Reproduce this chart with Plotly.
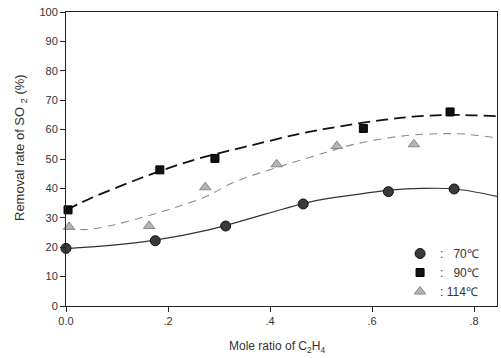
import plotly.graph_objects as go

x70 = [0.0, 0.175, 0.313, 0.465, 0.632, 0.761]
y70 = [19.6, 22.2, 27.2, 34.7, 38.9, 39.8]
x90 = [0.004, 0.184, 0.292, 0.583, 0.753]
y90 = [32.7, 46.3, 50.2, 60.4, 66.0]
x114 = [0.006, 0.163, 0.273, 0.413, 0.531, 0.682]
y114 = [26.9, 27.2, 40.4, 48.2, 54.4, 55.0]

# Fitted curves
cx70 = [0.0, 0.086, 0.171, 0.282, 0.36, 0.426, 0.492, 0.557, 0.635, 0.70, 0.763, 0.845]
cy70 = [19.5, 20.6, 22.3, 26.0, 29.7, 33.0, 35.9, 37.6, 39.4, 40.0, 39.8, 37.3]
cx90 = [0.0, 0.053, 0.12, 0.184, 0.263, 0.36, 0.459, 0.537, 0.622, 0.68, 0.753, 0.845]
cy90 = [32.6, 37.0, 41.7, 45.9, 50.3, 54.5, 58.6, 61.1, 63.3, 64.4, 65.0, 64.6]
cx114 = [0.0, 0.04, 0.086, 0.151, 0.217, 0.276, 0.328, 0.426, 0.511, 0.57, 0.668, 0.733, 0.778, 0.845]
cy114 = [26.4, 26.0, 27.3, 30.2, 33.7, 37.3, 42.0, 47.8, 52.3, 55.2, 58.0, 58.6, 58.5, 57.2]

xtick_vals = [0.0, 0.2, 0.4, 0.6, 0.8]
xtick_text = ["0.0", ".2", ".4", ".6", ".8"]
ytick_vals = list(range(0, 101, 10))

X_MAX = 0.845

fig = go.Figure()

# Fitted curves
fig.add_trace(go.Scatter(x=cx70, y=cy70, mode="lines", line_shape="spline",
                         line=dict(color="#333333", width=1.2), showlegend=False, hoverinfo="skip"))
fig.add_trace(go.Scatter(x=cx90, y=cy90, mode="lines", line_shape="spline",
                         line=dict(color="#111111", width=1.8, dash="12px,6px"), showlegend=False, hoverinfo="skip"))
fig.add_trace(go.Scatter(x=cx114, y=cy114, mode="lines", line_shape="spline",
                         line=dict(color="#8c8c8c", width=1.1, dash="8px,6px"), showlegend=False, hoverinfo="skip"))

nb = "\u00a0"
# Markers
fig.add_trace(go.Scatter(x=x70, y=y70, mode="markers", name=":" + nb * 3 + "70℃",
                         marker=dict(symbol="circle", size=10, color="#3a3a3a",
                                     line=dict(color="#111111", width=1)), cliponaxis=False))
fig.add_trace(go.Scatter(x=x90, y=y90, mode="markers", name=":" + nb * 3 + "90℃",
                         marker=dict(symbol="square", size=8, color="#111111",
                                     line=dict(color="#000000", width=1)), cliponaxis=False))
fig.add_trace(go.Scatter(x=x114, y=y114, mode="markers", name=":" + nb + "114℃",
                         marker=dict(symbol="triangle-up", size=10, color="#b4b4b4",
                                     line=dict(color="#888888", width=1)), cliponaxis=False))

font_family = "Liberation Sans, Arial, sans-serif"

fig.update_layout(
    width=501, height=358,
    margin=dict(l=66, r=4, t=12, b=52),
    paper_bgcolor="white", plot_bgcolor="white",
    font=dict(family=font_family, size=11, color="#333333"),
    showlegend=True,
    legend=dict(x=0.97, y=0.0, xanchor="right", yanchor="bottom",
                bgcolor="rgba(0,0,0,0)", font=dict(size=12, color="#333333"),
                itemwidth=30, tracegroupgap=0),
    xaxis=dict(range=[0, X_MAX], tickvals=xtick_vals, ticktext=xtick_text,
               showgrid=False, zeroline=False, showline=True, linecolor="#222222", linewidth=1,
               mirror=True, ticks="outside", ticklen=5, tickcolor="#222222",
               tickfont=dict(size=11, color="#333333")),
    yaxis=dict(range=[0, 100], tickvals=ytick_vals,
               showgrid=False, zeroline=False, showline=True, linecolor="#222222", linewidth=1,
               mirror=True, ticks="outside", ticklen=5, tickcolor="#222222",
               tickfont=dict(size=11, color="#333333")),
    annotations=[
        dict(text="Mole ratio of C<sub>2</sub>H<sub>4</sub>", xref="paper", yref="paper",
             x=(277 - 66) / 431, y=(306 - 347) / 294, xanchor="center", yanchor="middle",
             showarrow=False, font=dict(size=12, color="#333333")),
        dict(text="Removal rate of SO <sub>2</sub> (%)", xref="paper", yref="paper",
             x=(20 - 66) / 431, y=(306 - 148) / 294, xanchor="center", yanchor="middle", textangle=-90,
             showarrow=False, font=dict(size=13, color="#333333")),
    ],
)

fig.write_html("out.html")
